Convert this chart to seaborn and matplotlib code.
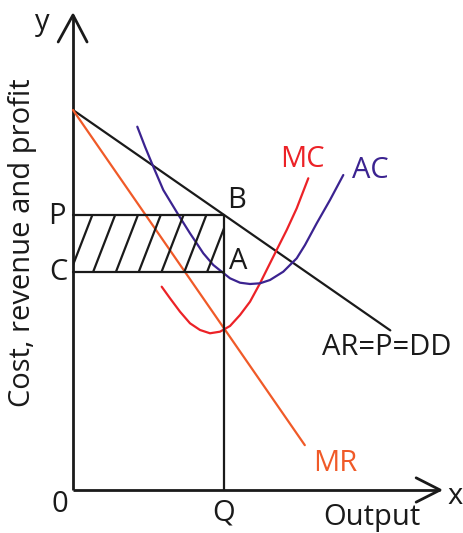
import numpy as np
import matplotlib
matplotlib.use("Agg")
import matplotlib.pyplot as plt
import seaborn as sns

# Demand / average revenue line (AR = P = DD)
ar_x = [0.0, 8.35]
ar_y = [10.0, 4.2]

# Marginal revenue line
mr_x = [0.0, 6.1]
mr_y = [10.0, 1.18]

# Average cost curve
ac_x = [1.692, 1.895, 2.113, 2.376, 2.776, 3.079, 3.255, 3.429, 3.692, 3.913, 4.132,
        4.395, 4.658, 4.921, 5.184, 5.534, 5.887, 6.105, 6.413, 6.763, 7.113]
ac_y = [9.561, 9.034, 8.508, 7.895, 7.237, 6.755, 6.492, 6.229, 5.921, 5.745, 5.571,
        5.455, 5.421, 5.439, 5.526, 5.745, 6.097, 6.447, 7.018, 7.632, 8.289]

# Marginal cost curve
mc_x = [2.334, 2.553, 2.816, 3.079, 3.342, 3.605, 3.868, 4.132, 4.395, 4.658, 4.921,
        5.184, 5.403, 5.624, 5.887, 6.192]
mc_y = [5.350, 5.045, 4.692, 4.387, 4.211, 4.124, 4.166, 4.316, 4.605, 4.955, 5.439,
        5.966, 6.403, 6.842, 7.413, 8.203]

# Equilibrium output, price and average cost
Q = 3.97
P = 7.24
C = 5.74

BLACK = "#1a1a1a"
MR_COL = "#f05a28"
MC_COL = "#ec2227"
AC_COL = "#3b2390"

sns.set_style("white")
plt.rcParams["font.family"] = ["Open Sans", "DejaVu Sans"]

fig = plt.figure(figsize=(4.63, 5.33), dpi=100)
ax = fig.add_axes([0, 0, 1, 1])
ax.set_xlim(-1.921, 10.263)
ax.set_ylim(-1.132, 12.895)
ax.axis("off")

lw = 1.6
fs = 21

# Axes with open arrow heads
ax.plot([0, 0], [0, 12.5], color=BLACK, lw=2.0, solid_capstyle="butt")
ax.plot([0, 9.66], [0, 0], color=BLACK, lw=2.0, solid_capstyle="butt")
ax.plot([-0.39, 0, 0.37], [11.79, 12.5, 11.79], color=BLACK, lw=2.0)
ax.plot([9.03, 9.66, 9.03], [0.32, 0, -0.32], color=BLACK, lw=2.0)

# Revenue and cost curves
sns.lineplot(x=ar_x, y=ar_y, ax=ax, color=BLACK, lw=lw)
sns.lineplot(x=mr_x, y=mr_y, ax=ax, color=MR_COL, lw=lw)
sns.lineplot(x=mc_x, y=mc_y, ax=ax, color=MC_COL, lw=lw)
sns.lineplot(x=ac_x, y=ac_y, ax=ax, color=AC_COL, lw=lw)

# Supernormal profit rectangle
ax.plot([0, Q], [P, P], color=BLACK, lw=lw)
ax.plot([0, Q], [C, C], color=BLACK, lw=lw)
ax.plot([Q, Q], [0, P], color=BLACK, lw=lw)

rect = plt.Rectangle((0, C), Q, P - C, fill=False, lw=0, transform=ax.transData)
ax.add_patch(rect)
spacing = 0.6
shift = 0.58
for x0 in np.arange(-0.07, Q + 0.1, spacing):
    ln, = ax.plot([x0, x0 + shift], [C, P], color=BLACK, lw=lw)
    ln.set_clip_path(rect)

# Labels
ax.text(-0.82, 12.3, "y", fontsize=fs, ha="center", va="center", color=BLACK)
ax.text(10.05, -0.16, "x", fontsize=fs, ha="center", va="center", color=BLACK)
ax.text(-0.34, -0.37, "0", fontsize=fs, ha="center", va="center", color=BLACK)
ax.text(-0.42, P - 0.05, "P", fontsize=fs, ha="center", va="center", color=BLACK)
ax.text(-0.39, C - 0.02, "C", fontsize=fs, ha="center", va="center", color=BLACK)
ax.text(Q + 0.34, P + 0.38, "B", fontsize=fs, ha="center", va="center", color=BLACK)
ax.text(Q + 0.37, C + 0.26, "A", fontsize=fs, ha="center", va="center", color=BLACK)
ax.text(Q + 0.0, -0.6, "Q", fontsize=fs, ha="center", va="center", color=BLACK)
ax.text(7.87, -0.72, "Output", fontsize=fs, ha="center", va="center", color=BLACK)
ax.text(6.03, 8.7, "MC", fontsize=fs, ha="center", va="center", color=MC_COL)
ax.text(7.82, 8.42, "AC", fontsize=fs, ha="center", va="center", color=AC_COL)
ax.text(8.26, 3.74, "AR=P=DD", fontsize=fs, ha="center", va="center", color=BLACK)
ax.text(6.9, 0.71, "MR", fontsize=fs, ha="center", va="center", color=MR_COL)
ax.text(-1.34, 6.5, "Cost, revenue and profit", fontsize=fs, rotation=90,
        ha="center", va="center", color=BLACK)

fig.savefig("out.png", dpi=100)
